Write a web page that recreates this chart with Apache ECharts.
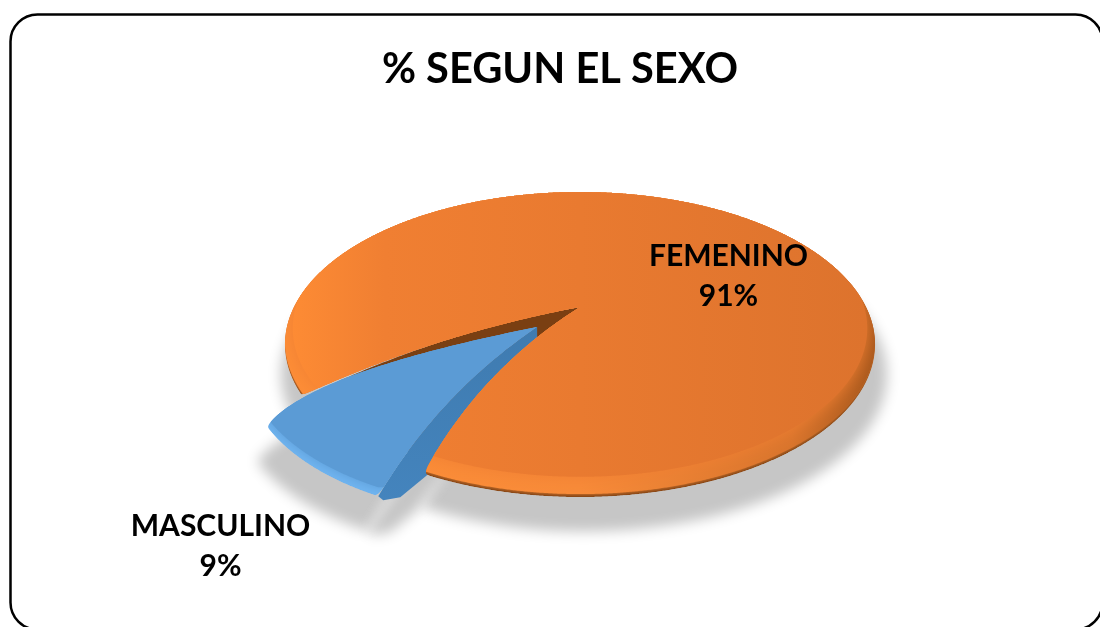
<!DOCTYPE html>
<html><head><meta charset="utf-8">
<style>html,body{margin:0;padding:0;background:#fff}#c{width:1100px;height:627px}</style>
<script src="https://cdn.jsdelivr.net/npm/echarts@6/dist/echarts.min.js"></script>
</head><body><div id="c"></div>
<script>
var titleText = '% SEGUN EL SEXO';
var categories = ['MASCULINO', 'FEMENINO'];
var percents = [9, 91];

// perspective model of the disc
var APEX_X = 580, APEX_Y = 307, A = 286, B = 143.3, K = 0.246, START = 25.2;
var FONT = 'bold 30px Lato, Carlito, sans-serif';

function proj(u, v) { var w = 1 - K * v; return [APEX_X + A * u / w, APEX_Y + B * v / w]; }
function polar(r, deg, off) {
  var t = deg * Math.PI / 180;
  return proj(-Math.sin(t) * r + (off ? off[0] : 0), Math.cos(t) * r + (off ? off[1] : 0));
}
function bow(p0, p1, amt, tc) {
  var dx = p1[0] - p0[0], dy = p1[1] - p0[1], len = Math.hypot(dx, dy), n = Math.max(4, Math.round(len / 4));
  var cx = p0[0] + dx * tc + (dy / len) * amt, cy = p0[1] + dy * tc - (dx / len) * amt;
  var out = [];
  for (var i = 0; i <= n; i++) {
    var t = i / n, s = 1 - t;
    out.push([s * s * p0[0] + 2 * s * t * cx + t * t * p1[0], s * s * p0[1] + 2 * s * t * cy + t * t * p1[1]]);
  }
  return out;
}
function roundAt(pts, idx, win, passes) {
  var L = pts.length;
  for (var p = 0; p < passes; p++) {
    var copy = pts.map(function (q) { return q.slice(); });
    for (var k = -win; k <= win; k++) {
      var j = (idx + k + L) % L, sx = 0, sy = 0;
      for (var m = -2; m <= 2; m++) { var q = copy[(j + m + L) % L]; sx += q[0]; sy += q[1]; }
      pts[j] = [sx / 5, sy / 5];
    }
  }
  return pts;
}
function arc(a0, a1, r, off) {
  var n = Math.round(Math.abs(a1 - a0) * 4.4), out = [];
  for (var i = 0; i <= n; i++) out.push(polar(r, a0 + (a1 - a0) * i / n, off));
  return out;
}
function wedge(a0, a1, r, off, b0, t0, b1, t1, rnd0, rnd1) {
  var apex = proj(off ? off[0] : 0, off ? off[1] : 0);
  var first = polar(r, a0, off), last = polar(r, a1, off);
  var pts = bow(apex, first, b0, t0), c0 = pts.length - 1;
  var ar = arc(a0, a1, r, off);
  pts = pts.concat(ar.slice(1, ar.length - 1));
  var c1 = pts.length;
  pts = pts.concat(bow(last, apex, b1, t1));
  if (rnd0) roundAt(pts, c0, rnd0[0], rnd0[1]);
  if (rnd1) roundAt(pts, c1, rnd1[0], rnd1[1]);
  return pts;
}
function shift(pts, dx, dy) { return pts.map(function (p) { return [p[0] + dx, p[1] + dy]; }); }
function hgrad(stops) { return { type: 'linear', x: 0, y: 0, x2: 1, y2: 0, colorStops: stops.map(function (s) { return { offset: s[0], color: s[1] }; }) }; }
function poly(pts, fill, z, blur) {
  var st = { fill: fill };
  if (blur) { st.shadowBlur = blur; st.shadowColor = typeof fill === 'string' ? fill : fill.colorStops[1].color; }
  return { type: 'polygon', shape: { points: pts }, style: st, z2: z, silent: true };
}
// soft drop shadow only: the shape sits off-canvas, its blurred shadow lands on the page
function softShadow(pts, dx, dy, z, blur) {
  return { type: 'polygon', shape: { points: shift(pts, dx - 3000, dy) }, z2: z, silent: true,
    style: { fill: '#c6c6c6', shadowColor: '#c6c6c6', shadowBlur: blur, shadowOffsetX: 3000 } };
}
function clipped(pts, kids) { return { type: 'group', clipPath: { type: 'polygon', shape: { points: pts } }, children: kids }; }
function text(name, val, x, y) {
  return { type: 'text', z2: 50, silent: true, style: { text: name + '\n' + val + '%', x: x, y: y, font: FONT, fill: '#000', align: 'center', verticalAlign: 'middle', lineHeight: 40 } };
}
var total = percents[0] + percents[1];
function renderItem(params, api) {
  var i = params.dataIndex, val = api.value(0);
  var a0 = START, a1 = START + 360 * percents[0] / total, a2 = START + 360;
  var kids = [];
  if (i === 1) {
    var s = wedge(a1, a2, 1, null, -18, .5, 30, .5, [3, 1], [5, 2]);
    kids.push(softShadow(wedge(a1, a2, 1.025, null, -18, .5, 30, .5), 4, 28, 1, 13));
    kids.push(poly(wedge(a0, a1, .94, null, 30, .5, 18, .5), '#7a3f12', 3));
    kids.push(clipped(s, [
      poly(s, '#7a3f12', 6),
      poly(shift(arc(a1 - 2, a2 + 2, 1), 0, -3), hgrad([[0, '#fd8d36'], [.5, '#f88b39'], [.86, '#d8742c'], [1, '#a5561b']]), 7, 4),
      poly(shift(arc(a1 - 2, a2 + 2, .975), 0, -14), hgrad([[0, '#fd8b34'], [.16, '#f07f32'], [.5, '#e97a30'], [1, '#dd732d']]), 8, 18)
    ]));
    kids.push(text(categories[i], val, 728.5, 276));
  } else {
    var off = [-0.145, 0.135], r = .945;
    var ap = proj(off[0], off[1]);
    var t = wedge(a0 - 1, a1 - 3.6, r, off, -26, .5, 36, .2, [3, 2], [8, 3]);
    var e0 = polar(r, a0 - 1, off), cut = polar(1, a0);
    var wl = bow(ap, e0, -26, .5).concat([[e0[0] + 5, e0[1] + 4], [e0[0] + 22, e0[1] + 1], [cut[0] + 3, cut[1] + 2], [ap[0], ap[1] + 13]]);
    kids.push(softShadow(t, -10, 35, 2, 13));
    kids.push(softShadow(wl, -10, 35, 2, 13));
    kids.push(poly(wl, { type: 'linear', x: 0, y: 0, x2: 0, y2: 1, colorStops: [{ offset: 0, color: '#3f7bb0' }, { offset: 1, color: '#4484bd' }] }, 5));
    var ext = [[ap[0] - 320, ap[1] - 150], [ap[0] + 100, ap[1] - 150], [e0[0] + 300, e0[1] - 12]];
    kids.push(clipped(t, [
      poly(t, '#70b5f1', 20),
      poly(shift(arc(a0 - 1, a1 - 3.6, r, off), 0, -9).concat(ext), '#5b9bd5', 21, 12)
    ]));
    kids.push(text(categories[i], val, 220.5, 546));
  }
  return { type: 'group', children: kids };
}
var chart = echarts.init(document.getElementById('c'), null, { renderer: 'canvas' });
chart.setOption({
  animation: false,
  backgroundColor: '#fff',
  title: { text: titleText, left: 555, top: 44, textAlign: 'center', textStyle: { fontFamily: 'Lato, Carlito, sans-serif', fontWeight: 'bold', fontSize: 41.6, color: '#000' } },
  graphic: [{ type: 'rect', shape: { x: 10.5, y: 14.5, width: 1092, height: 615, r: 27 }, style: { fill: 'none', stroke: '#000', lineWidth: 2.5 }, silent: true }],
  series: [{ type: 'custom', coordinateSystem: 'none', renderItem: renderItem, data: percents.map(function (v) { return [v]; }), clip: false }]
});
</script></body></html>
